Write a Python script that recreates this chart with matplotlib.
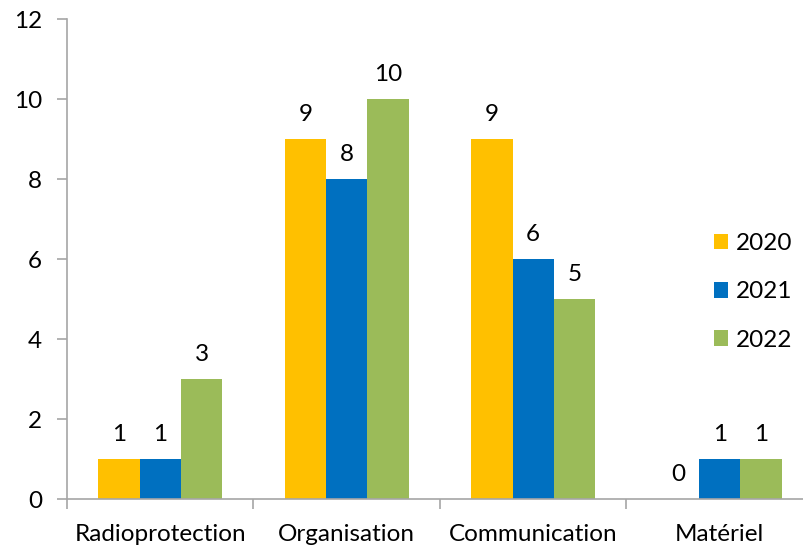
import matplotlib
matplotlib.use("Agg")
import matplotlib.pyplot as plt
import numpy as np

categories = ["Radioprotection", "Organisation", "Communication", "Matériel"]
years = ["2020", "2021", "2022"]
v2020 = [1, 9, 9, 0]
v2021 = [1, 8, 6, 1]
v2022 = [3, 10, 5, 1]

COLORS = ["#FFC000", "#0070C0", "#9BBB59"]
AXIS_C = "#A6A6A6"
FS = 17.5

plt.rcParams["font.family"] = ["Lato", "DejaVu Sans"]

fig = plt.figure(figsize=(8.04, 5.46), dpi=100)
ax = fig.add_axes([67 / 804, 47 / 546, 746 / 804, 480 / 546])

x = np.arange(len(categories))
w = 0.2225
series = [v2020, v2021, v2022]
for i, (vals, col, lab) in enumerate(zip(series, COLORS, years)):
    bars = ax.bar(x + (i - 1) * w, vals, width=w, color=col, label=lab)
    ax.bar_label(bars, labels=[str(v) for v in vals], padding=10, fontsize=FS)

ax.set_xlim(-0.5, len(categories) - 0.5)
ax.set_ylim(0, 12)
ax.set_yticks(range(0, 13, 2))
ax.set_xticks(x)
ax.set_xticklabels(categories)
ax.set_xticks(np.arange(-0.5, len(categories), 1), minor=True)
ax.tick_params(axis="x", which="major", length=0, pad=18, labelsize=FS)
ax.tick_params(axis="x", which="minor", length=7, color=AXIS_C, width=1.2)
ax.tick_params(axis="y", length=7, color=AXIS_C, width=1.2, pad=11, labelsize=FS)

for s in ["top", "right"]:
    ax.spines[s].set_visible(False)
for s in ["left", "bottom"]:
    ax.spines[s].set_color(AXIS_C)
    ax.spines[s].set_linewidth(1.2)

ax.legend(loc="center left", bbox_to_anchor=(692 / 804, 1 - 292 / 546),
          bbox_transform=fig.transFigure, frameon=False, fontsize=FS,
          handlelength=0.6, handleheight=0.6, handletextpad=0.3,
          labelspacing=1.12)

fig.savefig("out.png", dpi=100)
